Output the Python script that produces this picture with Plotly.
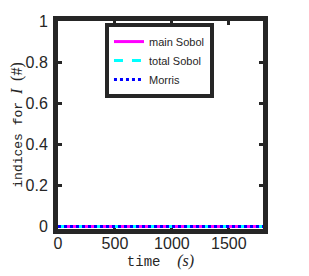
import plotly.graph_objects as go

time_s = [0, 300, 600, 900, 1200, 1500, 1800]
main_sobol = [0, 0, 0, 0, 0, 0, 0]
total_sobol = [0, 0, 0, 0, 0, 0, 0]
morris = [0, 0, 0, 0, 0, 0, 0]

x_ticks = [0, 500, 1000, 1500]
y_ticks = [0, 0.2, 0.4, 0.6, 0.8, 1]
y_tick_labels = ["0", "0.2", "0.4", "0.6", "0.8", "1"]

fig = go.Figure()
fig.add_trace(go.Scatter(x=time_s, y=main_sobol, mode="lines", name="main Sobol",
                         line=dict(color="#ff00ff", width=3)))
fig.add_trace(go.Scatter(x=time_s, y=total_sobol, mode="lines", name="total Sobol",
                         line=dict(color="#00ffff", width=3, dash="dash")))
fig.add_trace(go.Scatter(x=time_s, y=morris, mode="lines", name="Morris",
                         line=dict(color="#0000ff", width=3, dash="dot")))

axis_common = dict(
    showline=True, linewidth=5, linecolor="#262626", mirror="ticks",
    ticks="inside", ticklen=4, tickwidth=3, tickcolor="#262626",
    showgrid=False, zeroline=False, automargin=False, layer="below traces",
    tickfont=dict(family="Liberation Sans, Arial", size=16, color="#262626"),
)

fig.update_xaxes(range=[0, 1800], tickvals=x_ticks, ticklabelstandoff=-4, **axis_common,
                 title=dict(text="time&nbsp;&nbsp;<span style='font-family:Liberation Serif;font-style:italic;font-size:16px'>(s)</span>",
                            font=dict(family="Liberation Mono, Courier New", size=14, color="#262626"),
                            standoff=0))
fig.update_yaxes(range=[-0.012, 1], tickvals=y_ticks, ticktext=y_tick_labels, ticklabelstandoff=2, **axis_common,
                 title=dict(text="indices for <span style='font-family:Liberation Serif;font-style:italic;font-size:16px'>I</span> <span style='font-family:Liberation Serif;font-size:16px'>(#)</span>",
                            font=dict(family="Liberation Mono, Courier New", size=13, color="#262626"),
                            standoff=2))

fig.update_layout(
    width=301, height=268,
    margin=dict(l=50, r=46, t=13, b=47),
    paper_bgcolor="white", plot_bgcolor="white",
    showlegend=True,
    legend=dict(x=0.495, y=0.99, xanchor="center", yanchor="top",
                bgcolor="white", bordercolor="#262626", borderwidth=4,
                font=dict(family="Liberation Sans, Arial", size=11, color="#262626"),
                itemwidth=30, tracegroupgap=0),
)

fig.write_html("out.html")
